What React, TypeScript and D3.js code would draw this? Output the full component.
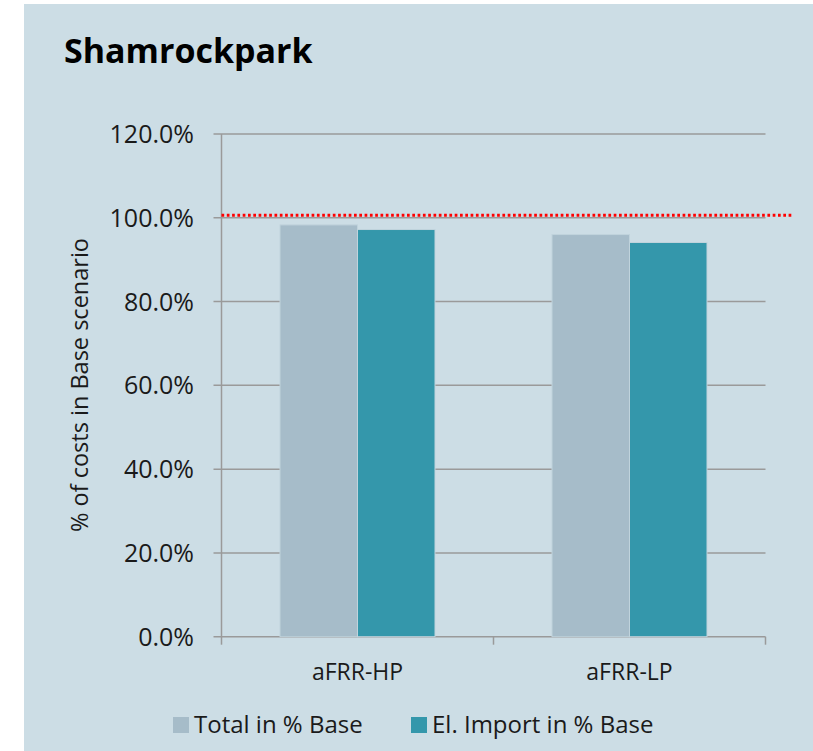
import React from "react";
import * as d3 from "d3";

const categories = ["aFRR-HP", "aFRR-LP"];
const seriesNames = ["Total in % Base", "El. Import in % Base"];
const totalValues = [0.983, 0.96];
const importValues = [0.972, 0.941];
const yTicks = [0, 0.2, 0.4, 0.6, 0.8, 1.0, 1.2];
const referenceValue = 1.006;

const colors = ["#a6bcc9", "#3497ab"];
const FONT = "'Open Sans', 'Noto Sans', sans-serif";

export default function App() {
  const W = 813;
  const H = 751;
  const left = 221.5;
  const right = 765.5;
  const top = 134;
  const bottom = 636.7;

  const y = d3.scaleLinear().domain([0, 1.2]).range([bottom, top]);
  const x0 = d3.scaleBand<string>().domain(categories).range([left, right]).paddingInner(0).paddingOuter(0);
  const x1 = d3
    .scaleBand<string>()
    .domain(seriesNames)
    .range([0, x0.bandwidth()])
    .paddingInner(0)
    .paddingOuter(0.755);
  const series = [totalValues, importValues];
  const fmt = d3.format(".1%");
  const gridColor = "#9a9a9a";
  const textColor = "#1a1a1a";
  const W8 = 400;

  const boundaries = [left, ...categories.map((c) => (x0(c) as number) + x0.bandwidth())];

  return (
    <svg
      width={W}
      height={H}
      style={{ display: "block", position: "absolute", left: 0, top: 0 }}
      fontFamily={FONT}
    >
      <rect x={0} y={0} width={W} height={H} fill="#ffffff" />
      <rect x={24} y={4} width={W - 24} height={H - 4} fill="#ccdde5" />
      <text x={64} y={63} fontSize={34} fontWeight={700} fill="#000">
        Shamrockpark
      </text>

      {yTicks.map((t) => (
        <g key={t}>
          <line x1={left - 8} x2={right} y1={y(t)} y2={y(t)} stroke={gridColor} strokeWidth={1.5} />
          <text x={194} y={y(t)} dy="0.36em" textAnchor="end" fontSize={25} fontWeight={W8} fill={textColor}>
            {fmt(t)}
          </text>
        </g>
      ))}
      <line x1={left} x2={left} y1={top} y2={bottom} stroke={gridColor} strokeWidth={1.5} />
      {boundaries.map((b, i) => (
        <line key={i} x1={b} x2={b} y1={bottom} y2={bottom + 8} stroke={gridColor} strokeWidth={1.5} />
      ))}

      {categories.map((c, ci) => (
        <g key={c} transform={`translate(${x0(c)},0)`}>
          {seriesNames.map((s, si) => {
            const v = series[si][ci];
            return (
              <rect
                key={s}
                x={x1(s)}
                y={y(v)}
                width={x1.bandwidth()}
                height={bottom - y(v)}
                fill={colors[si]}
                stroke="#c0d3dc"
                strokeWidth={1}
              />
            );
          })}
          <text
            x={x0.bandwidth() / 2}
            y={680}
            textAnchor="middle"
            fontSize={23}
            fontWeight={W8}
            fill={textColor}
          >
            {c}
          </text>
        </g>
      ))}

      <line
        x1={left}
        x2={793}
        y1={y(referenceValue)}
        y2={y(referenceValue)}
        stroke="#ff0000"
        strokeWidth={3}
        strokeDasharray="2.7 2.6"
      />

      <text
        transform={`translate(88,385) rotate(-90)`}
        textAnchor="middle"
        fontSize={23.5}
        fontWeight={W8}
        fill={textColor}
      >
        % of costs in Base scenario
      </text>

      {seriesNames.map((s, i) => {
        const lx = i === 0 ? 173 : 411;
        return (
          <g key={s}>
            <rect x={lx} y={717} width={16} height={16} fill={colors[i]} />
            <text x={lx + 21} y={733} fontSize={24} fontWeight={W8} fill={textColor}>
              {s}
            </text>
          </g>
        );
      })}
    </svg>
  );
}
